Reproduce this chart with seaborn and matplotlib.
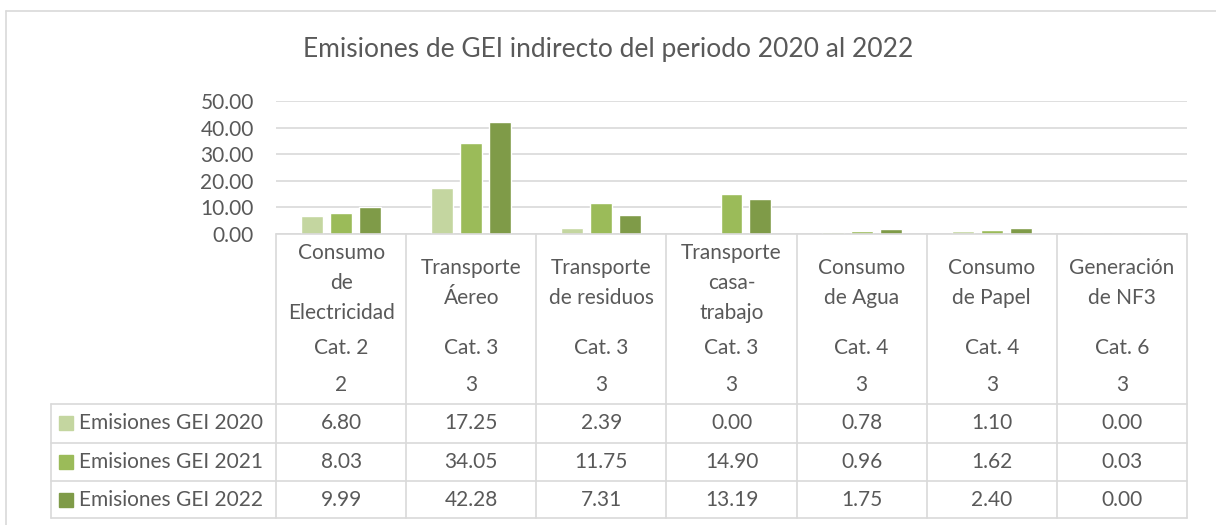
import numpy as np
import pandas as pd
import matplotlib.pyplot as plt
import seaborn as sns
from matplotlib.transforms import blended_transform_factory
from matplotlib.lines import Line2D
from matplotlib.patches import Rectangle

# datos del grafico
categorias = ["Consumo\nde\nElectricidad", "Transporte\nÁereo", "Transporte\nde residuos",
              "Transporte\ncasa-\ntrabajo", "Consumo\nde Agua", "Consumo\nde Papel", "Generación\nde NF3"]
cat_ghg = ["Cat. 2", "Cat. 3", "Cat. 3", "Cat. 3", "Cat. 4", "Cat. 4", "Cat. 6"]
alcance = ["2", "3", "3", "3", "3", "3", "3"]
series = ["Emisiones GEI 2020", "Emisiones GEI 2021", "Emisiones GEI 2022"]
emis_2020 = [6.80, 17.25, 2.39, 0.00, 0.78, 1.10, 0.00]
emis_2021 = [8.03, 34.05, 11.75, 14.90, 0.96, 1.62, 0.03]
emis_2022 = [9.99, 42.28, 7.31, 13.19, 1.75, 2.40, 0.00]
colores = ["#C4D6A0", "#9BBB59", "#7F9B48"]

df = pd.DataFrame({"categoria": categorias, series[0]: emis_2020,
                   series[1]: emis_2021, series[2]: emis_2022})
df = df.melt(id_vars="categoria", var_name="serie", value_name="valor")

sns.set_style("white")
plt.rcParams['font.family'] = ['Lato', 'DejaVu Sans']

W, H = 1216, 525
gris = '#595959'
linea = '#D9D9D9'
fs = 15


def fy(py):
    return 1 - py / H


fig = plt.figure(figsize=(W / 100, H / 100), dpi=100)
ax = fig.add_axes([276 / W, fy(234), (1187 - 276) / W, (234 - 101) / H])

sns.barplot(data=df, x="categoria", y="valor", hue="serie", hue_order=series,
            palette=colores, saturation=1, width=0.667, gap=0.24, legend=False, ax=ax)

ax.set_xlim(-0.5, len(categorias) - 0.5)
ax.set_ylim(0, 50)
ax.set_yticks(np.arange(0, 51, 10))
ax.set_yticklabels([f"{v:.2f}" for v in np.arange(0, 51, 10)])
ax.yaxis.grid(True, color=linea, lw=1.2)
ax.set_axisbelow(True)
for s in ax.spines.values():
    s.set_visible(False)
ax.tick_params(axis='y', length=0, pad=16, labelsize=fs, labelcolor=gris)
ax.set_xticks([])
ax.set_xlabel('')
ax.set_ylabel('')

fig.text(0.5, fy(50), "Emisiones de GEI indirecto del periodo 2020 al 2022",
         ha='center', va='center', fontsize=19, color=gris)

# tabla de datos
tr = blended_transform_factory(ax.transData, fig.transFigure)
n = len(categorias)
fig.add_artist(Line2D([-0.5, n - 0.5], [fy(234)] * 2, transform=tr, color=linea, lw=1.2))
for i in range(n + 1):
    fig.add_artist(Line2D([i - 0.5, i - 0.5], [fy(234), fy(518)], transform=tr, color=linea, lw=1.2))
for py in [404, 443, 481, 518]:
    fig.add_artist(Line2D([51 / W, 1187 / W], [fy(py)] * 2, color=linea, lw=1.2))
fig.add_artist(Line2D([51 / W, 51 / W], [fy(404), fy(518)], color=linea, lw=1.2))

for i in range(n):
    fig.text(i, fy(283), categorias[i], transform=tr, ha='center', va='center',
             fontsize=fs, color=gris, linespacing=1.6)
    fig.text(i, fy(348), cat_ghg[i], transform=tr, ha='center', va='center', fontsize=fs, color=gris)
    fig.text(i, fy(385), alcance[i], transform=tr, ha='center', va='center', fontsize=fs, color=gris)

filas = [423, 462, 500]
for serie, vals, col, py in zip(series, [emis_2020, emis_2021, emis_2022], colores, filas):
    fig.add_artist(Rectangle((59 / W, fy(py + 7)), 14 / W, 14 / H, color=col, transform=fig.transFigure))
    fig.text(79 / W, fy(py), serie, ha='left', va='center', fontsize=fs, color=gris)
    for i, v in enumerate(vals):
        fig.text(i, fy(py), f"{v:.2f}", transform=tr, ha='center', va='center', fontsize=fs, color=gris)

# borde del area del grafico
fig.add_artist(Line2D([6 / W, 6 / W], [fy(11), 0], color=linea, lw=1.2))
fig.add_artist(Line2D([6 / W, 1], [fy(11)] * 2, color=linea, lw=1.2))

fig.savefig('out.png', dpi=100)
